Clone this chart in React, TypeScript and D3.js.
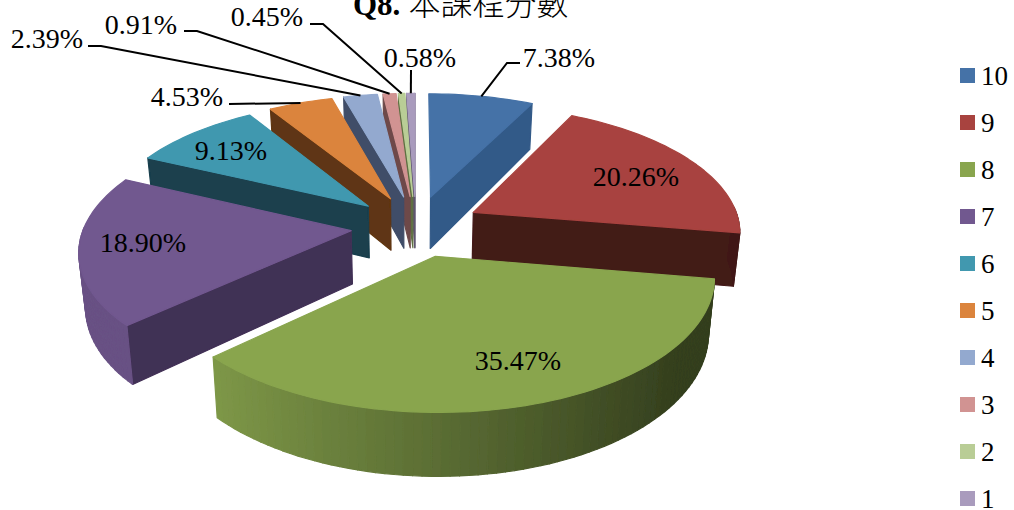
import React from "react";
import * as d3 from "d3";

const categories = ["10", "9", "8", "7", "6", "5", "4", "3", "2", "1"];
const percents = [7.38, 20.26, 35.47, 18.9, 9.13, 4.53, 2.39, 0.91, 0.45, 0.58];
const percentLabels = ["7.38%", "20.26%", "35.47%", "18.90%", "9.13%", "4.53%", "2.39%", "0.91%", "0.45%", "0.58%"];
const topColors = ["#4572a7", "#a8433f", "#89a54e", "#71588f", "#4198af", "#db843d", "#93a9cf", "#d19392", "#b9cd96", "#a99bbd"];
const wallColors = ["#335a88", "#431a18", "#36421b", "#413055", "#1a3f4d", "#5f3512", "#3f4d68", "#6e4a4a", "#5f7043", "#5f5470"];
const labelCenters: [number, number][] = [[559, 58], [636, 177], [518, 361], [143, 243], [231, 151], [187, 97], [47, 39], [141, 25], [267, 17], [420, 58]];
const leaderElbows: ([number, number][] | null)[] = [
  [[520, 63], [507, 63]], null, null, null, null,
  [[229, 104], [229, 104]],
  [[88, 46], [101, 46]],
  [[184, 31], [197, 31]],
  [[310, 24], [323, 24]],
  [[411, 70], [411, 70]],
];

const W = 1014, H = 510;
const cx = 416, cy = 226, R = 278, E = 68, DEPTH = 53;
const ax = 0.96, by = 0.45, persp = 2000;

function project(X: number, Y: number, h: number): [number, number] {
  const w = 1 / (1 + Y / persp);
  const shrink = 1 - 0.02 * h;
  return [cx + ax * X * w * shrink, cy - by * Y * w + DEPTH * h * w];
}

const pieLayout = d3.pie<number>().sort(null).value((d) => d);
const arcs = pieLayout(percents);

function shade(color: string, k: number) {
  const c = d3.rgb(color);
  return d3.rgb(c.r * k, c.g * k, c.b * k).formatHex();
}

const linePath = d3.line<[number, number]>();
const closed = (pts: [number, number][]) => linePath(pts) + "Z";

type Shape = { d: string; fill: string };

function sliceModel(i: number) {
  const a = arcs[i];
  const mid = (a.startAngle + a.endAngle) / 2;
  const ox = E * Math.sin(mid), oy = E * Math.cos(mid);
  const P = (t: number, r: number, h: number) => project(ox + r * Math.sin(t), oy + r * Math.cos(t), h);
  const n = Math.max(2, Math.ceil((a.endAngle - a.startAngle) / 0.03));
  const thetas = d3.range(n + 1).map((k) => a.startAngle + ((a.endAngle - a.startAngle) * k) / n);
  const shapes: Shape[] = [];
  const top = topColors[i];
  const wallA: [number, number][] = [P(0, 0, 0), P(a.startAngle, R, 0), P(a.startAngle, R, 1), P(0, 0, 1)];
  const wallB: [number, number][] = [P(0, 0, 0), P(0, 0, 1), P(a.endAngle, R, 1), P(a.endAngle, R, 0)];
  if (Math.sin(a.startAngle) < 0) shapes.push({ d: closed(wallA), fill: wallColors[i] });
  if (Math.sin(a.endAngle) > 0) shapes.push({ d: closed(wallB), fill: wallColors[i] });
  for (let k = 0; k < n; k++) {
    const t = (thetas[k] + thetas[k + 1]) / 2;
    if (Math.cos(t) > 0.03) continue;
    const q: [number, number][] = [P(thetas[k], R, 0), P(thetas[k + 1], R, 0), P(thetas[k + 1], R, 1), P(thetas[k], R, 1)];
    const f = Math.max(0.38, Math.min(0.92, 0.66 - 0.35 * Math.sin(t)));
    shapes.push({ d: closed(q), fill: shade(top, f) });
  }
  const topPts: [number, number][] = [P(0, 0, 0), ...thetas.map((t) => P(t, R, 0))];
  shapes.push({ d: closed(topPts), fill: top });
  return { shapes, mid, anchor: P(mid, R, 0) };
}

const models = percents.map((_, i) => sliceModel(i));
const drawOrder = d3.range(percents.length).sort((p, q) => Math.cos(models[q].mid) - Math.cos(models[p].mid));

const legendY = d3.scalePoint<string>().domain(categories).range([75.5, 498.5]);
const fontSerif = "'Liberation Serif', serif";

export default function App() {
  return (
    <svg width={W} height={H} style={{ position: "absolute", left: 0, top: 0, background: "#fff" }} fontFamily={fontSerif}>
      <defs>
        <filter id="soft" x="-5%" y="-5%" width="110%" height="110%"><feGaussianBlur stdDeviation="0.45" /></filter>
      </defs>
      <text x={353} y={15} fontSize={31} fill="#000">
        <tspan fontWeight="bold">Q8.</tspan>
        <tspan fontFamily="'Noto Sans CJK TC', sans-serif" dx={8} fontSize={32} fontWeight={300}>本課程分數</tspan>
      </text>
      <g filter="url(#soft)">
        {drawOrder.map((i) => (
          <g key={categories[i]}>
            {models[i].shapes.map((s, k) => (
              <path key={k} d={s.d} fill={s.fill} stroke={s.fill} strokeWidth={1.2} strokeLinejoin="round" />
            ))}
          </g>
        ))}
      </g>
      {leaderElbows.map((pts, i) =>
        pts ? (
          <path key={i} d={linePath([...pts, models[i].anchor]) as string} fill="none" stroke="#000" strokeWidth={2} />
        ) : null
      )}
      {percentLabels.map((t, i) => (
        <text key={t} x={labelCenters[i][0]} y={labelCenters[i][1] + 9} fontSize={28} textAnchor="middle" fill="#000">{t}</text>
      ))}
      {categories.map((c, i) => (
        <g key={c}>
          <rect x={960} y={(legendY(c) as number) - 7.5} width={15} height={15} fill={topColors[i]} />
          <text x={981} y={(legendY(c) as number) + 9} fontSize={27} fill="#000">{c}</text>
        </g>
      ))}
    </svg>
  );
}
